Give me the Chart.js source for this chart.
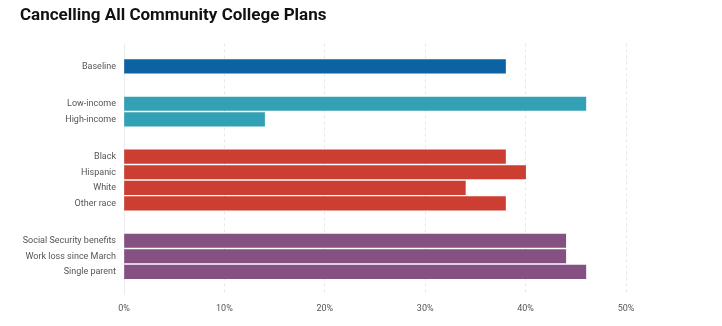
<!DOCTYPE html>
<html>
<head>
<meta charset="utf-8">
<script src="https://cdn.jsdelivr.net/npm/chart.js@4"></script>
<style>
  html, body { margin: 0; padding: 0; background: #fff; }
  #wrap { width: 722px; height: 326px; position: relative; }
</style>
</head>
<body>
<div id="wrap"><canvas id="chart"></canvas></div>
<script>
// Share of households affected (%)
const categories = [
    'Baseline',
    'Low-income', 'High-income',
    'Black', 'Hispanic', 'White', 'Other race',
    'Social Security benefits', 'Work loss since March', 'Single parent'
];
const values = [38, 46, 14, 38, 40, 34, 38, 44, 44, 46];
const groups = [0, 1, 1, 2, 2, 2, 2, 3, 3, 3];
const groupColors = ['#0b63a3', '#33a1b5', '#cb3e31', '#855183'];
const xTicks = [0, 10, 20, 30, 40, 50];

// extra space (in rows) between groups
const GROUP_GAP = 1.4;
const positions = categories.map((c, i) => i + groups[i] * GROUP_GAP);

const labelFont = { family: 'Roboto', size: 9 };

new Chart(document.getElementById('chart'), {
    type: 'bar',
    data: {
        datasets: [{
            data: values.map((v, i) => ({ x: v, y: positions[i] })),
            backgroundColor: groups.map(g => groupColors[g]),
            borderWidth: 0,
            barThickness: 13.5
        }]
    },
    options: {
        indexAxis: 'y',
        responsive: true,
        maintainAspectRatio: false,
        animation: false,
        layout: { padding: { left: 20, right: 96, top: 0, bottom: 4 } },
        plugins: {
            legend: { display: false },
            tooltip: { enabled: false },
            title: {
                display: true,
                text: 'Cancelling All Community College Plans',
                align: 'start',
                color: '#111',
                font: { family: 'Roboto', size: 17, weight: 'bold' },
                padding: { top: 6, bottom: 17 }
            }
        },
        scales: {
            x: {
                type: 'linear',
                min: 0,
                max: 50,
                afterBuildTicks: (scale) => { scale.ticks = xTicks.map(v => ({ value: v })); },
                ticks: {
                    callback: (v) => v + '%',
                    color: '#555',
                    font: labelFont,
                    padding: 8
                },
                grid: {
                    color: (ctx) => ctx.tick && ctx.tick.value === 0 ? '#ececec' : '#e8e8e8',
                    drawTicks: false,
                    lineWidth: 1
                },
                border: { display: false, dash: (ctx) => ctx.tick && ctx.tick.value === 0 ? [] : [3, 3] }
            },
            y: {
                type: 'linear',
                reverse: true,
                offset: false,
                min: -1.48,
                max: 14.7,
                afterBuildTicks: (scale) => { scale.ticks = positions.map(p => ({ value: p })); },
                afterFit: (scale) => { scale.width = 104; },
                ticks: {
                    callback: (v) => categories[positions.indexOf(v)],
                    color: '#555',
                    font: labelFont,
                    padding: 8,
                    autoSkip: false
                },
                grid: { display: false, drawTicks: false, offset: false },
                border: { display: false }
            }
        }
    }
});
</script>
</body>
</html>
